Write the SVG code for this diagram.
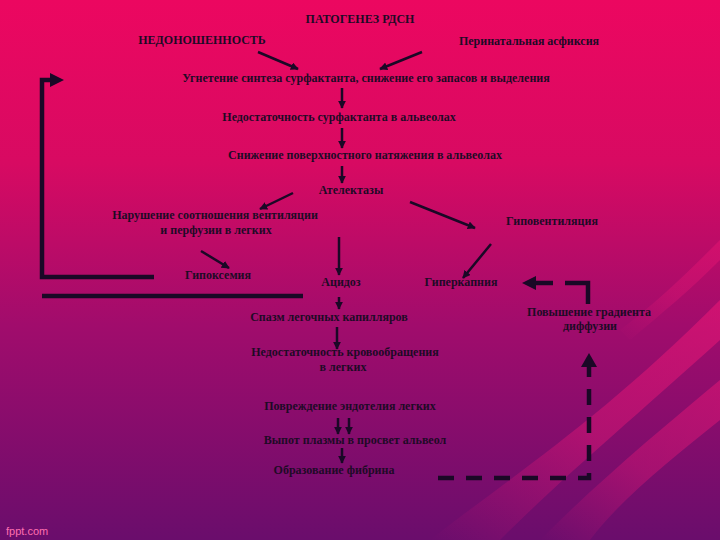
<svg xmlns="http://www.w3.org/2000/svg" width="720" height="540" viewBox="0 0 720 540">
<defs>
<linearGradient id="bg" x1="0" y1="0" x2="0" y2="1">
<stop offset="0" stop-color="#ec0760"/>
<stop offset="0.3" stop-color="#d80a62"/>
<stop offset="0.6" stop-color="#a10c6c"/>
<stop offset="1" stop-color="#6a0d6c"/>
</linearGradient>
<linearGradient id="sw" x1="0" y1="1" x2="1" y2="0">
<stop offset="0" stop-color="#ff1a78" stop-opacity="0"/>
<stop offset="0.5" stop-color="#ff1a78" stop-opacity="0.7"/>
<stop offset="1" stop-color="#ff1a78" stop-opacity="0.9"/>
</linearGradient>
<marker id="ah" viewBox="0 0 10 10" refX="9" refY="5" markerWidth="3.2" markerHeight="3.2" orient="auto">
<path d="M0,0 L10,5 L0,10 z" fill="#1a0826"/>
</marker>
</defs>
<style>
text{font-family:"Liberation Serif","Times New Roman",serif;font-weight:bold;fill:#1e0a26;font-size:12px;text-anchor:middle}
.a{stroke:#1a0826;stroke-width:2.5;fill:none;marker-end:url(#ah)}
.thick{stroke:#1a0826;stroke-width:4.5;fill:none}
.dash{stroke:#1a0826;stroke-width:4.5;fill:none;stroke-dasharray:16 12}
</style>
<rect width="720" height="540" fill="url(#bg)"/>
<path d="M430,540 C520,470 600,420 720,300 L720,340 C620,430 560,480 500,540 z" fill="url(#sw)" opacity="0.5"/>
<path d="M540,540 C600,480 660,430 720,380 L720,420 C670,460 620,500 590,540 z" fill="url(#sw)" opacity="0.45"/>
<path d="M620,330 C660,300 690,270 720,240 L720,260 C690,290 660,315 630,340 z" fill="url(#sw)" opacity="0.35"/>
<text x="6" y="535" style="font-family:'Liberation Sans',sans-serif;font-weight:normal;fill:#ff6fb0;font-size:11px;text-anchor:start">fppt.com</text>

<g id="connectors">
<line class="a" x1="258" y1="52" x2="298" y2="69"/>
<line class="a" x1="422" y1="52" x2="380" y2="69"/>
<line class="a" x1="342" y1="88" x2="342" y2="108"/>
<line class="a" x1="342" y1="128" x2="342" y2="148"/>
<line class="a" x1="342" y1="166" x2="342" y2="183"/>
<line class="a" x1="293" y1="193" x2="260" y2="209"/>
<line class="a" x1="410" y1="202" x2="475" y2="228"/>
<line class="a" x1="201" y1="251" x2="229" y2="268"/>
<line class="a" x1="339" y1="237" x2="339" y2="275"/>
<line class="a" x1="491" y1="244" x2="463" y2="278"/>
<line class="a" x1="339" y1="297" x2="339" y2="309"/>
<line class="a" x1="337" y1="327" x2="337" y2="349"/>
<line class="a" x1="338" y1="418" x2="338" y2="434"/>
<line class="a" x1="349" y1="418" x2="349" y2="434"/>
<line class="a" x1="342" y1="448" x2="342" y2="463"/>
<path class="thick" d="M154,277 H42 V80 H52"/>
<path d="M50,73 L64,80 L50,87 z" fill="#1a0826"/>
<line class="thick" x1="42" y1="296" x2="303" y2="296"/>
<path class="dash" d="M438,478 H589 V360"/>
<path d="M581,367 L589,353 L597,367 z" fill="#1a0826"/>
<path d="M588,304 V283 H585" class="thick"/>
<line class="thick" x1="585" y1="283" x2="565" y2="283"/>
<line class="thick" x1="553" y1="283" x2="532" y2="283"/>
<path d="M536,276 L522,283 L536,290 z" fill="#1a0826"/>
</g>

<g id="n-title"><text x="360" y="23">ПАТОГЕНЕЗ РДСН</text></g>
<g id="n-nedonosh"><text x="202" y="44">НЕДОНОШЕННОСТЬ</text></g>
<g id="n-asfiksia"><text x="529" y="45">Перинатальная асфиксия</text></g>
<g id="n-ugnetenie"><text x="366" y="82">Угнетение синтеза сурфактанта, снижение его запасов и выделения</text></g>
<g id="n-nedostat"><text x="339" y="121">Недостаточность сурфактанта в альвеолах</text></g>
<g id="n-snizhenie"><text x="365" y="159">Снижение поверхностного натяжения в альвеолах</text></g>
<g id="n-atelektazy"><text x="351" y="194">Ателектазы</text></g>
<g id="n-narushenie"><text x="215" y="219">Нарушение соотношения вентиляции</text><text x="216" y="234">и перфузии в легких</text></g>
<g id="n-gipovent"><text x="552" y="225">Гиповентиляция</text></g>
<g id="n-gipoksemia"><text x="218" y="279">Гипоксемия</text></g>
<g id="n-acidoz"><text x="341" y="286">Ацидоз</text></g>
<g id="n-giperkapnia"><text x="461" y="286">Гиперкапния</text></g>
<g id="n-povyshenie"><text x="589" y="316">Повышение градиента</text><text x="590" y="330">диффузии</text></g>
<g id="n-spazm"><text x="329" y="321">Спазм легочных капилляров</text></g>
<g id="n-nedkrov"><text x="345" y="356">Недостаточность кровообращения</text><text x="343" y="371">в легких</text></g>
<g id="n-povrezhd"><text x="350" y="410">Повреждение эндотелия легких</text></g>
<g id="n-vypot"><text x="355" y="444">Выпот плазмы в просвет альвеол</text></g>
<g id="n-fibrin"><text x="334" y="474">Образование фибрина</text></g>
</svg>
